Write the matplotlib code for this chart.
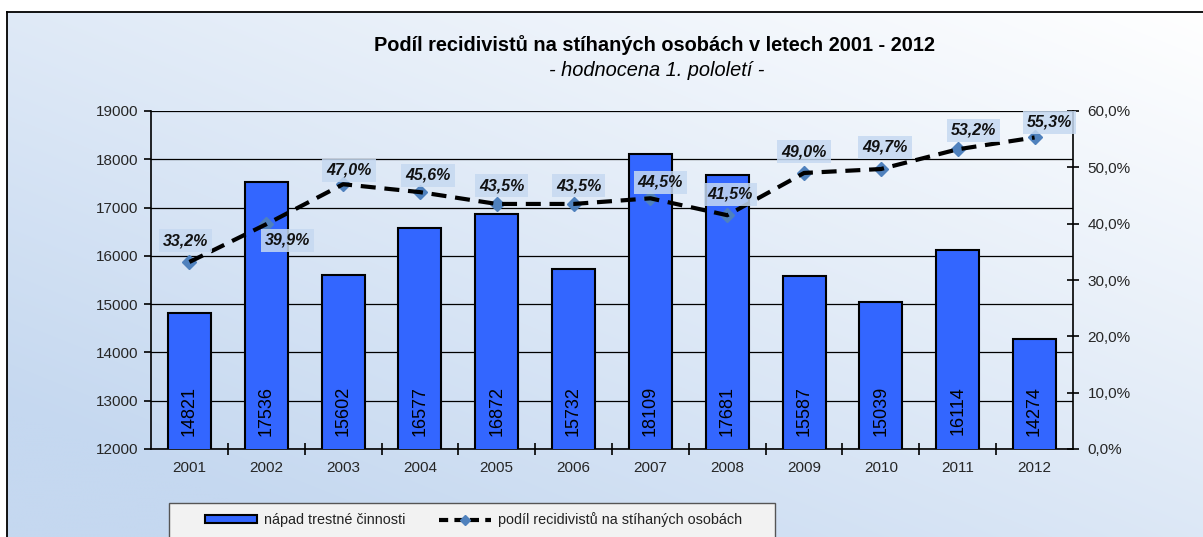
import numpy as np
import matplotlib
matplotlib.use("Agg")
import matplotlib.pyplot as plt
from matplotlib.lines import Line2D
from matplotlib.patches import Patch, Rectangle
from matplotlib.ticker import FuncFormatter, FixedLocator

plt.rcParams['font.family'] = ['Liberation Sans', 'DejaVu Sans']

# ---- data ----
years = ["2001", "2002", "2003", "2004", "2005", "2006", "2007", "2008", "2009", "2010", "2011", "2012"]
crimes = [14821, 17536, 15602, 16577, 16872, 15732, 18109, 17681, 15587, 15039, 16114, 14274]
recid_pct = [33.2, 39.9, 47.0, 45.6, 43.5, 43.5, 44.5, 41.5, 49.0, 49.7, 53.2, 55.3]

title = "Podíl recidivistů na stíhaných osobách v letech 2001 - 2012"
subtitle = "- hodnocena 1. pololetí -"
bar_label = "nápad trestné činnosti"
line_label = "podíl recidivistů na stíhaných osobách"

# label offsets in pixels (layout only)
lbl_off = [(-4, 21), (21, -16), (6, 14), (8, 17), (5, 18), (5, 18),
           (10, 16), (3, 21), (0, 21), (4, 22), (16, 19), (15, 15)]

W, H = 1203, 537
fig = plt.figure(figsize=(W / 100, H / 100), dpi=100)

# background gradient + frame
bg = fig.add_axes([0, 0, 1, 1], zorder=-10)
bg.set_xlim(0, W)
bg.set_ylim(H, 0)
bg.axis('off')
u = np.linspace(0, 1, 300)[None, :]
v = np.linspace(0, 1, 150)[:, None]
t = np.clip(0.55 * (1 - u) + 0.6 * v, 0, 1)
c0 = np.array([1.0, 1.0, 1.0])
c1 = np.array([197, 216, 240]) / 255
img = c0[None, None, :] * (1 - t[..., None]) + c1[None, None, :] * t[..., None]
bg.imshow(img, extent=(7, W + 5, H + 5, 12), aspect='auto', interpolation='bilinear')
bg.plot([7, W + 5], [12, 12], color='black', lw=1.3)
bg.plot([7, 7], [12, H + 5], color='black', lw=1.3)
# legend frame
bg.add_patch(Rectangle((169, 503), 775 - 169, 60, facecolor='#f2f2f2', edgecolor='#555555', lw=1.0))

left, right, top, bottom = 151, 1073, 111, 449
ax = fig.add_axes([left / W, 1 - bottom / H, (right - left) / W, (bottom - top) / H])
ax.patch.set_alpha(0)
x = np.arange(len(years))
ax.bar(x, crimes, width=0.56, bottom=0, color='#3366ff', edgecolor='black', linewidth=1.5, zorder=3)
ax.set_xlim(-0.5, len(years) - 0.5)
ax.set_ylim(12000, 19000)
ax.set_yticks(np.arange(12000, 19001, 1000))
ax.yaxis.grid(True, color='black', lw=0.9, zorder=0)
ax.set_axisbelow(True)
ax.spines['top'].set_visible(False)
ax.spines['right'].set_visible(False)
ax.spines['left'].set_linewidth(1.2)
ax.spines['bottom'].set_linewidth(1.2)
ax.set_xticks(x)
ax.set_xticklabels(years)
ax.tick_params(axis='x', which='major', length=0, pad=9, labelsize=11, labelcolor='#262626')
ax.xaxis.set_minor_locator(FixedLocator(np.arange(0.5, len(years) - 0.5, 1)))
ax.tick_params(axis='x', which='minor', direction='inout', length=9, width=1.2)
ax.tick_params(axis='y', direction='out', length=5, width=1.2, labelsize=11, labelcolor='#262626', pad=4)

for xi, val in zip(x, crimes):
    ax.annotate(str(val), xy=(xi, 12000), xytext=(0, 38), textcoords='offset pixels',
                rotation=90, ha='center', va='center', fontsize=13, color='black', zorder=4)

ax2 = ax.twinx()
ax2.set_ylim(0, 0.6)
ax2.set_yticks(np.arange(0, 0.61, 0.1))
ax2.yaxis.set_major_formatter(FuncFormatter(lambda v, p: f"{v*100:.1f}%".replace('.', ',')))
ax2.tick_params(axis='y', direction='inout', length=9, width=1.2, labelsize=11, labelcolor='#262626', pad=6)
for s in ['top', 'left', 'bottom']:
    ax2.spines[s].set_visible(False)
ax2.spines['right'].set_linewidth(1.2)

pv = np.array(recid_pct) / 100
ax2.plot(x, pv, linestyle='none', marker='D', markersize=7.5, color='#4f81bd', zorder=2)
ax2.plot(x, pv, color='black', lw=3, dashes=(3.6, 2.1), zorder=3, dash_capstyle='butt')
for xi, pvi, val, off in zip(x, pv, recid_pct, lbl_off):
    ax2.annotate(f"{val:.1f}%".replace('.', ','), xy=(xi, pvi), xytext=off, textcoords='offset pixels',
                 ha='center', va='center', fontsize=11.5, fontweight='bold', fontstyle='italic', color='#111111',
                 bbox=dict(boxstyle='square,pad=0.25', fc='#c6d9f1', ec='none', alpha=0.85), zorder=5)

fig.text(655 / W, 1 - 45 / H, title, ha='center', va='center', fontsize=14.4, fontweight='bold', color='black')
fig.text(657 / W, 1 - 70 / H, subtitle, ha='center', va='center', fontsize=14.4, fontstyle='italic', color='black')

handles = [Patch(facecolor='#3366ff', edgecolor='black', linewidth=1.5),
           Line2D([0], [0], color='black', lw=3, dashes=(2.2, 1.5), marker='D', markersize=5,
                  markerfacecolor='#4f81bd', markeredgecolor='#4f81bd')]
leg = fig.legend(handles, [bar_label, line_label], loc='center left', ncol=2,
                 bbox_to_anchor=(205 / W, 1 - 520 / H),
                 fontsize=10.4, frameon=False, handlelength=3.6, handleheight=0.5,
                 handletextpad=0.5, columnspacing=2.3, borderaxespad=0, borderpad=0)
for tx in leg.get_texts():
    tx.set_color('#222222')

fig.savefig("out.png", dpi=100)
